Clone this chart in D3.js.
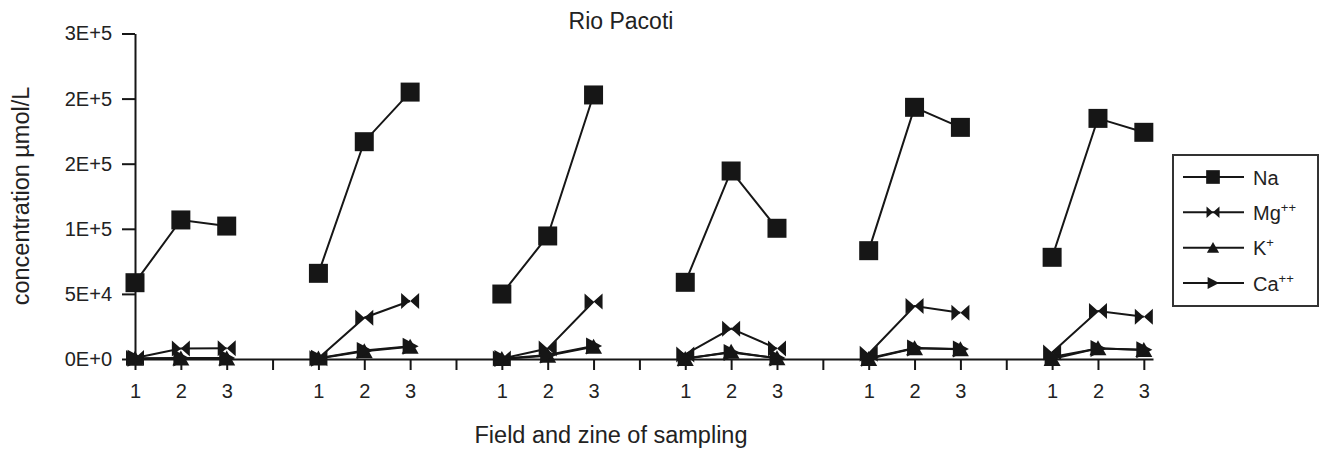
<!DOCTYPE html>
<html>
<head>
<meta charset="utf-8">
<script src="https://cdn.jsdelivr.net/npm/d3@7"></script>
<style>
  html, body { margin: 0; padding: 0; background: #fff; }
  svg { display: block; font-family: "Liberation Sans", Arial, Helvetica, sans-serif; }
</style>
</head>
<body>
<svg id="chart" width="1323" height="451"></svg>
<script>
// Sampling points within each field/zone, and how many fields were sampled
const samples = ["1", "2", "3"];
const groupCount = 6;

// Ion concentrations (µmol/L), one row of three samples per field
const naValues = [
  [58600, 106800, 102100],
  [65800, 166900, 205000],
  [49900, 94500, 202800],
  [58900, 144400, 100400],
  [83200, 193300, 177900],
  [78100, 184800, 174100]
];
const mgValues = [
  [800, 8000, 8200],
  [500, 31700, 44500],
  [300, 8000, 44200],
  [3500, 23300, 8000],
  [4000, 40700, 35600],
  [5000, 36900, 32500]
];
const kValues = [
  [200, 300, 300],
  [300, 6000, 9400],
  [0, 2500, 9400],
  [0, 5600, 500],
  [0, 8200, 7400],
  [0, 8200, 6900]
];
const caValues = [
  [500, 800, 800],
  [500, 6500, 9800],
  [300, 3000, 10000],
  [500, 5000, 800],
  [500, 8500, 7600],
  [1500, 8000, 7200]
];

const seriesNames = ["Na", "Mg", "K", "Ca"];
const seriesCharges = ["", "++", "+", "++"];
const seriesShapes = ["square", "bowtie", "triangleUp", "triangleRight"];

const yTickValues = [0, 50000, 100000, 150000, 200000, 250000];
const yTickLabels = ["0E+0", "5E+4", "1E+5", "2E+5", "2E+5", "3E+5"];

const titleText = "Rio Pacoti";
const xTitleText = "Field and zine of sampling";
const yTitleText = "concentration \u00b5mol/L";

const series = [naValues, mgValues, kValues, caValues].map((vals, i) => ({
  name: seriesNames[i],
  charge: seriesCharges[i],
  shape: seriesShapes[i],
  groups: vals
}));

const ink = "#161616";
const svg = d3.select("#chart");

// Slots: three samples per field followed by one empty separator slot
const slotsPerGroup = samples.length + 1;
const slotCount = groupCount * slotsPerGroup - 1;
const x = d3.scaleLinear().domain([0, slotCount - 0.8]).range([135, 1153]);
const y = d3.scaleLinear().domain([0, 250000]).range([359, 33.5]);

// Marker shapes, centred on the origin
const shapes = {
  square: "M-9.5,-9.5H9.5V9.5H-9.5Z",
  bowtie: "M-9,-8L0,0L-9,8ZM9,-8L0,0L9,8Z",
  triangleUp: "M0,-8L8.5,7L-8.5,7Z",
  triangleRight: "M-7.5,-8.5L8.5,0L-7.5,8.5Z"
};

// Y axis
const yAxis = svg.append("g")
  .attr("transform", `translate(${x(0)},0)`)
  .call(d3.axisLeft(y)
    .tickValues(yTickValues)
    .tickFormat((d, i) => yTickLabels[i])
    .tickSize(13)
    .tickSizeOuter(0)
    .tickPadding(10));

// X axis with sample numbers; separator slots carry ticks without labels
const xAxis = svg.append("g")
  .attr("transform", `translate(0,${y(0)})`)
  .call(d3.axisBottom(x)
    .tickValues(d3.range(slotCount))
    .tickFormat(d => {
      const s = d % slotsPerGroup;
      return s < samples.length ? samples[s] : "";
    })
    .tickSize(11)
    .tickSizeOuter(0)
    .tickPadding(14));

[yAxis, xAxis].forEach(ax => {
  ax.select(".domain").attr("stroke", ink).attr("stroke-width", 2);
  ax.selectAll(".tick line").attr("stroke", ink).attr("stroke-width", 2);
  ax.selectAll(".tick text")
    .attr("fill", "#222")
    .style("font-size", "20px")
    .style("font-family", "'Liberation Sans', Arial, sans-serif");
});

// Lines and markers, one three-point trace per field
const line = d3.line()
  .x(d => x(d.slot))
  .y(d => y(d.value));

series.forEach(s => {
  const g = svg.append("g").attr("class", "series-" + s.name);
  s.groups.forEach((vals, gi) => {
    const pts = vals.map((v, si) => ({ slot: gi * slotsPerGroup + si, value: v }));
    g.append("path")
      .datum(pts)
      .attr("d", line)
      .attr("fill", "none")
      .attr("stroke", ink)
      .attr("stroke-width", 2);
    g.selectAll(null)
      .data(pts)
      .enter()
      .append("path")
      .attr("d", shapes[s.shape])
      .attr("transform", d => `translate(${x(d.slot)},${y(d.value)})`)
      .attr("fill", ink);
  });
});

// Titles
svg.append("text")
  .attr("x", 621)
  .attr("y", 29)
  .attr("text-anchor", "middle")
  .attr("fill", "#222")
  .style("font-size", "23px")
  .text(titleText);

svg.append("text")
  .attr("x", 611)
  .attr("y", 443)
  .attr("text-anchor", "middle")
  .attr("fill", "#222")
  .style("font-size", "23.5px")
  .text(xTitleText);

svg.append("text")
  .attr("transform", "translate(29,196) rotate(-90)")
  .attr("text-anchor", "middle")
  .attr("fill", "#222")
  .style("font-size", "23.5px")
  .text(yTitleText);

// Legend
const legend = svg.append("g").attr("transform", "translate(1173,155)");
legend.append("rect")
  .attr("width", 145)
  .attr("height", 151)
  .attr("fill", "#fff")
  .attr("stroke", "#333")
  .attr("stroke-width", 2);

const rowY = d3.scalePoint().domain(seriesNames).range([22, 128]);
series.forEach(s => {
  const row = legend.append("g").attr("transform", `translate(0,${rowY(s.name)})`);
  row.append("line")
    .attr("x1", 10).attr("x2", 71)
    .attr("stroke", ink).attr("stroke-width", 2);
  row.append("path")
    .attr("d", shapes[s.shape])
    .attr("transform", "translate(40,0) scale(0.72)")
    .attr("fill", ink);
  const t = row.append("text")
    .attr("x", 80)
    .attr("y", 7.5)
    .attr("fill", "#222")
    .style("font-size", "20px");
  t.append("tspan").text(s.name);
  if (s.charge) {
    t.append("tspan")
      .attr("dy", -8)
      .style("font-size", "13px")
      .text(s.charge);
  }
});
</script>
</body>
</html>
